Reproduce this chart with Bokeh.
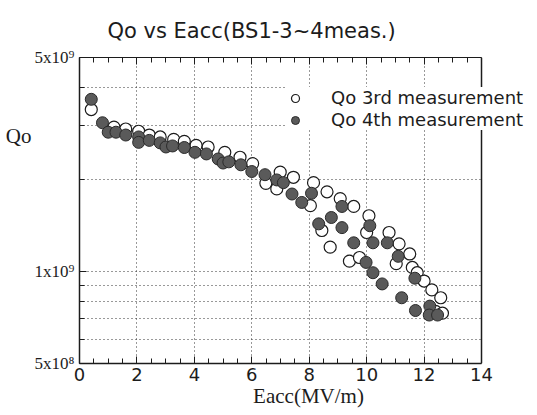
from bokeh.plotting import figure
from bokeh.models import (FixedTicker, LinearAxis, LogAxis, Legend, LegendItem,
                          CustomJSTickFormatter, Span, BoxAnnotation)
from bokeh.embed import file_html
from bokeh.resources import INLINE

title_text = "Qo vs Eacc(BS1-3~4meas.)"
x_label = "Eacc(MV/m)"
y_label = "Qo"
series3_name = "Qo 3rd measurement"
series4_name = "Qo 4th measurement"

x_ticks = [0, 2, 4, 6, 8, 10, 12, 14]
x_minor = [i * 0.5 for i in range(29)]
x_max = 14
y_ticks = [5e8, 1e9, 5e9]
y_tick_labels = {5e8: "5x10\u2078", 1e9: "1x10\u2079", 5e9: "5x10\u2079"}
y_minor = [6e8, 7e8, 8e8, 9e8, 2e9, 3e9, 4e9]
y_label_pos = 2.78e9

# 3rd measurement (open circles)
eacc3 = [0.41, 1.20, 1.61, 2.06, 2.43, 2.81, 3.28, 3.65, 4.06, 4.48, 5.06, 5.59,
         6.03, 6.49, 6.99, 6.87, 7.45, 8.04, 8.15, 8.62, 9.08, 9.55, 8.44, 10.08,
         10.00, 8.73, 9.40, 9.75, 10.78, 11.13, 11.03, 11.50, 11.59, 11.76, 12.00,
         12.27, 12.58, 12.40, 12.64]
qo3 = [3.38e9, 2.96e9, 2.92e9, 2.87e9, 2.79e9, 2.75e9, 2.70e9, 2.66e9, 2.58e9, 2.55e9,
       2.45e9, 2.36e9, 2.25e9, 1.94e9, 2.11e9, 1.86e9, 2.03e9, 1.64e9, 1.95e9, 1.82e9,
       1.73e9, 1.63e9, 1.36e9, 1.52e9, 1.34e9, 1.20e9, 1.08e9, 1.11e9, 1.34e9, 1.23e9,
       1.06e9, 1.14e9, 1.03e9, 0.99e9, 0.93e9, 0.87e9, 0.82e9, 0.74e9, 0.73e9]

# 4th measurement (filled circles)
eacc4 = [0.41, 0.80, 1.00, 1.27, 1.61, 2.06, 2.06, 2.43, 2.81, 3.01, 3.24, 3.65,
         4.02, 4.42, 4.83, 5.00, 5.20, 5.62, 6.00, 6.46, 6.87, 7.10, 7.40, 7.74,
         8.08, 8.33, 8.77, 9.14, 9.14, 10.11, 9.55, 10.22, 9.98, 10.22, 10.54,
         10.72, 11.10, 11.22, 11.68, 11.70, 12.20, 12.18, 12.47]
qo4 = [3.65e9, 3.06e9, 2.85e9, 2.85e9, 2.79e9, 2.75e9, 2.64e9, 2.68e9, 2.63e9, 2.55e9,
       2.57e9, 2.54e9, 2.45e9, 2.42e9, 2.33e9, 2.26e9, 2.28e9, 2.23e9, 2.12e9, 2.07e9,
       1.99e9, 1.95e9, 1.79e9, 1.68e9, 1.80e9, 1.43e9, 1.50e9, 1.63e9, 1.39e9, 1.41e9,
       1.24e9, 1.24e9, 1.07e9, 0.99e9, 0.91e9, 1.24e9, 1.12e9, 0.82e9, 0.95e9, 0.745e9,
       0.77e9, 0.72e9, 0.72e9]

INK = "#1c1c1c"

# frame runs to the right canvas edge so the legend text is not clipped;
# the visible axis box is closed at x = 14
p = figure(width=537, height=415, x_range=(0, 15.95), y_range=(5e8, 5e9),
           y_axis_type="log", output_backend="svg", toolbar_location=None,
           min_border_left=79, min_border_right=0, min_border_top=57,
           min_border_bottom=52, background_fill_color="white",
           border_fill_color="white")
p.outline_line_color = None

p.title.text = title_text
p.title.align = "left"
p.title.offset = 28
p.title.standoff = 30
p.title.text_font = "DejaVu Sans"
p.title.text_font_size = "21px"
p.title.text_font_style = "normal"
p.title.text_color = INK

# axes
xa = p.xaxis[0]
xa.ticker = FixedTicker(ticks=x_ticks, minor_ticks=x_minor)
xa.bounds = (0, x_max)
xa.major_label_text_font = "DejaVu Sans"
xa.major_label_text_font_size = "18px"
xa.major_label_text_color = INK
xa.axis_label = x_label
xa.axis_label_text_font = "Liberation Serif"
xa.axis_label_text_font_size = "21px"
xa.axis_label_text_font_style = "normal"
xa.axis_label_text_color = INK
xa.axis_label_standoff = 0
xa.major_label_standoff = 4

ya = p.yaxis[0]
ya.ticker = FixedTicker(ticks=y_ticks, minor_ticks=y_minor)
ya.major_label_overrides = y_tick_labels
ya.major_label_text_font = "Liberation Serif"
ya.major_label_text_font_size = "17px"
ya.major_label_text_color = INK
ya.major_label_standoff = 5
ya.axis_label_standoff = 0

for ax in (xa, ya):
    ax.axis_line_color = INK
    ax.axis_line_width = 1.5
    ax.major_tick_in = 7
    ax.major_tick_out = 0
    ax.minor_tick_in = 5
    ax.minor_tick_out = 0
    ax.major_tick_line_color = INK
    ax.minor_tick_line_color = INK

top = LinearAxis(ticker=FixedTicker(ticks=x_ticks, minor_ticks=x_minor),
                 formatter=CustomJSTickFormatter(code="return ''"), bounds=(0, x_max))
top.major_tick_in = 7
top.major_tick_out = 0
top.minor_tick_in = 5
top.minor_tick_out = 0
top.axis_line_color = INK
top.axis_line_width = 1.2
top.major_tick_line_color = INK
top.minor_tick_line_color = INK
top.major_label_standoff = 0
top.axis_label_standoff = 0
p.add_layout(top, "above")

# "Qo" label, horizontal, near the top of the y axis
qo_axis = LogAxis(ticker=FixedTicker(ticks=[y_label_pos]),
                  major_label_overrides={y_label_pos: y_label},
                  axis_line_color=None, major_tick_line_color=None,
                  minor_tick_line_color=None, major_label_standoff=0,
                  major_tick_in=0, major_tick_out=0, minor_tick_in=0,
                  minor_tick_out=0, axis_label_standoff=0,
                  major_label_text_font="Liberation Serif",
                  major_label_text_font_size="21px",
                  major_label_text_color=INK)
p.add_layout(qo_axis, "left")

# grids
p.xgrid.ticker = FixedTicker(ticks=[2, 4, 6, 8, 10, 12])
p.ygrid.ticker = FixedTicker(ticks=[6e8, 7e8, 8e8, 9e8, 1e9, 2e9, 3e9, 4e9])
for g in (p.xgrid, p.ygrid):
    g.grid_line_color = "#333333"
    g.grid_line_dash = "1 3"
    g.grid_line_width = 1

r3 = p.scatter(eacc3, qo3, marker="circle", size=12, fill_color="white",
               line_color=INK, line_width=1.2)
r4 = p.scatter(eacc4, qo4, marker="circle", size=12, fill_color="#5a5a5a",
               line_color="#2a2a2a", line_width=1.0)

# blank the area right of the axis box, then close the box at x = 14
p.add_layout(BoxAnnotation(left=x_max, fill_color="white", fill_alpha=1.0,
                           line_color=None))
p.add_layout(Span(location=x_max, dimension="height", line_color=INK,
                  line_width=1.5))

legend = Legend(items=[LegendItem(label=series3_name, renderers=[r3]),
                       LegendItem(label=series4_name, renderers=[r4])],
                location=(206, 233), border_line_color=None,
                background_fill_color="white", background_fill_alpha=1.0,
                padding=10, margin=0, spacing=1,
                label_height=20, glyph_height=20, glyph_width=20,
                label_standoff=26, label_text_font="DejaVu Sans",
                label_text_font_size="18px", label_text_color=INK)
p.add_layout(legend)

open("out.html", "w").write(file_html(p, INLINE))
